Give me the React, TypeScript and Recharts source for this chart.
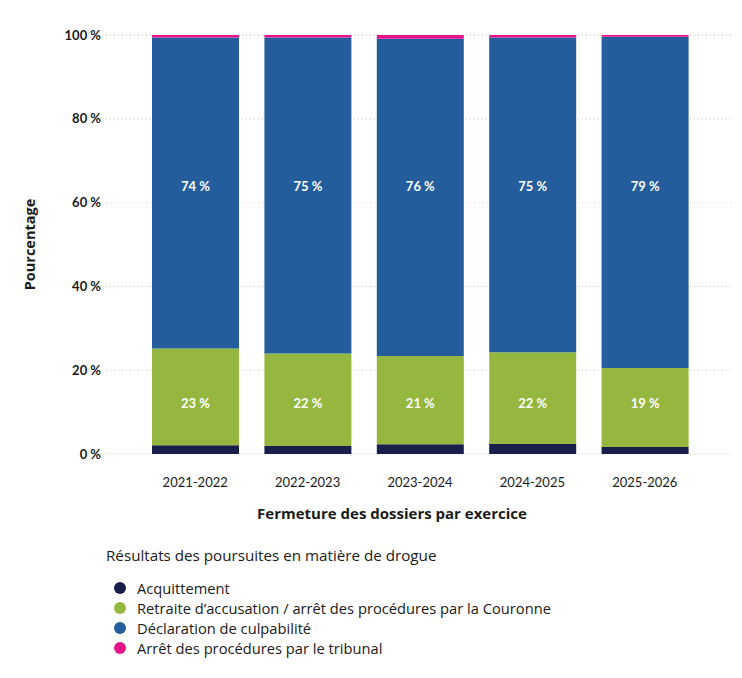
import React from 'react';
import { BarChart, Bar, XAxis, YAxis, CartesianGrid, LabelList, Label } from 'recharts';

const categories = ['2021-2022', '2022-2023', '2023-2024', '2024-2025', '2025-2026'];
const acquittement = [2.1, 1.9, 2.3, 2.4, 1.7];
const retraite = [23.1, 22.1, 21.1, 21.9, 18.8];
const declaration = [74.2, 75.4, 75.7, 75.1, 79.1];
const arretTribunal = [0.6, 0.6, 0.9, 0.6, 0.4];
const yTicks = [0, 20, 40, 60, 80, 100];

const seriesNames = [
  'Acquittement',
  'Retraite d\u2019accusation / arr\u00eat des proc\u00e9dures par la Couronne',
  'D\u00e9claration de culpabilit\u00e9',
  'Arr\u00eat des proc\u00e9dures par le tribunal',
];
const seriesColors = ['#1b1e4b', '#95b73f', '#235d9c', '#e5168c'];

const data = categories.map((c, i) => ({
  name: c,
  acq: acquittement[i],
  ret: retraite[i],
  dec: declaration[i],
  arr: arretTribunal[i],
}));

const FONT = 'Lato, sans-serif';
const WIDE = '"Open Sans", sans-serif';

// labels sit at a fixed level of the y scale, not at segment centre
const fixedLabel = (below: number[], level: number) => (props: any) => {
  const { x, y, width, height, value, index } = props;
  if (!value) return null;
  const pxPer = height / value;
  const base = y + height + below[index] * pxPer;
  const ty = base - level * pxPer;
  return (
    <text
      x={x + width / 2}
      y={ty}
      fill="#fff"
      fontSize={13}
      fontWeight={700}
      textAnchor="middle"
      dominantBaseline="middle"
      fontFamily={FONT}
    >
      {Math.round(value)} %
    </text>
  );
};

const retBelow = acquittement;
const decBelow = acquittement.map((a, i) => a + retraite[i]);

const App = () => {
  return (
    <div style={{ position: 'relative', width: 734, height: 662, fontFamily: WIDE, color: '#1a1a1a' }}>
      <BarChart
        width={734}
        height={530}
        data={data}
        margin={{ top: 27, right: 7, bottom: 44, left: 0 }}
      >
        <CartesianGrid vertical={false} stroke="#c8c8c8" strokeDasharray="1 3" />
        <XAxis
          dataKey="name"
          axisLine={false}
          tickLine={false}
          tickMargin={18}
          height={40}
          padding={{ left: 33, right: 34 }}
          tick={{ fontSize: 13, fill: '#1a1a1a', fontFamily: FONT }}
        >
          <Label
            content={() => (
              <text x={384} y={511} textAnchor="middle" fontSize={15} fontWeight={700} fill="#1a1a1a" fontFamily={WIDE}>
                Fermeture des dossiers par exercice
              </text>
            )}
          />
        </XAxis>
        <YAxis
          width={98}
          domain={[0, 100]}
          ticks={yTicks}
          axisLine={false}
          tickLine={false}
          tickSize={5}
          tickMargin={0}
          tickFormatter={(v) => `${v} %`}
          tick={{ fontSize: 13, fontWeight: 700, fill: '#1a1a1a', fontFamily: FONT }}
        >
          <Label
            content={(p: any) => {
              const vb = p.viewBox;
              const cy = vb.y + vb.height / 2;
              return (
                <text
                  x={23}
                  y={cy}
                  transform={`rotate(-90 23 ${cy})`}
                  textAnchor="middle"
                  dominantBaseline="middle"
                  fontSize={14.5}
                  fontWeight={700}
                  fill="#1a1a1a"
                  fontFamily={WIDE}
                >
                  Pourcentage
                </text>
              );
            }}
          />
        </YAxis>
        <Bar dataKey="acq" stackId="a" fill={seriesColors[0]} barSize={87} isAnimationActive={false} />
        <Bar dataKey="ret" stackId="a" fill={seriesColors[1]} barSize={87} isAnimationActive={false}>
          <LabelList dataKey="ret" content={fixedLabel(retBelow, 11.7)} />
        </Bar>
        <Bar dataKey="dec" stackId="a" fill={seriesColors[2]} barSize={87} isAnimationActive={false}>
          <LabelList dataKey="dec" content={fixedLabel(decBelow, 63.6)} />
        </Bar>
        <Bar dataKey="arr" stackId="a" fill={seriesColors[3]} barSize={87} isAnimationActive={false} />
      </BarChart>

      <div style={{ position: 'absolute', left: 98, top: 537 }}>
        <div style={{ fontSize: 15.2, lineHeight: '20px', marginBottom: 13 }}>
          Résultats des poursuites en matière de drogue
        </div>
        {seriesNames.map((n, i) => (
          <div key={n} style={{ display: 'flex', alignItems: 'center', height: 20, fontSize: 14.7 }}>
            <span
              style={{
                display: 'inline-block',
                width: 12,
                height: 12,
                borderRadius: '50%',
                background: seriesColors[i],
                marginLeft: 8,
                marginRight: 11,
              }}
            />
            <span>{n}</span>
          </div>
        ))}
      </div>
    </div>
  );
};

export default App;
